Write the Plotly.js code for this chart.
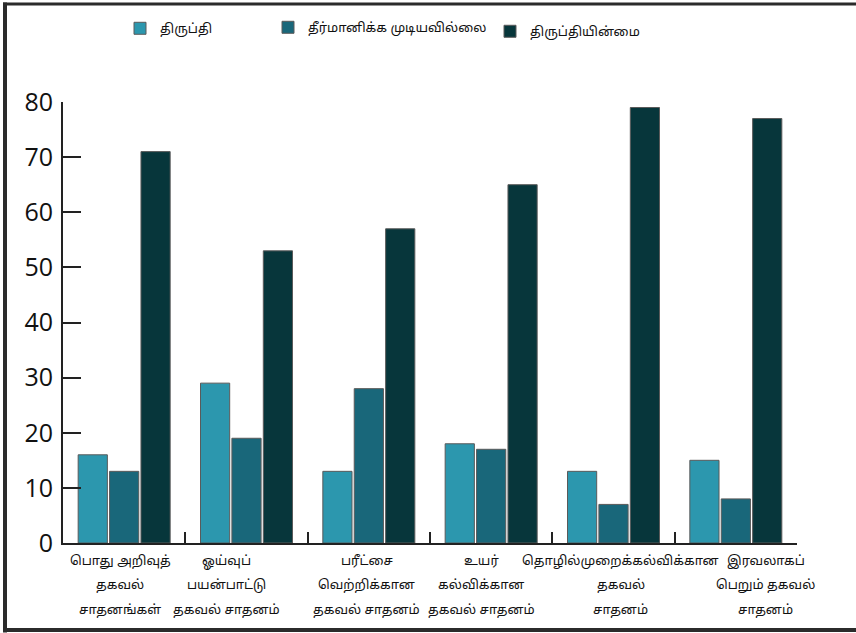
<!DOCTYPE html>
<html>
<head>
<meta charset="utf-8">
<script src="https://cdn.plot.ly/plotly-3.0.1.min.js"></script>
<style>
  html, body { margin: 0; padding: 0; background: #fff; }
  #chart { width: 856px; height: 633px; }
</style>
</head>
<body>
<div id="chart"></div>
<script>
// Information sources (category labels, wrapped over lines)
const categories = [
  "பொது அறிவுத்<br>தகவல்<br>சாதனங்கள்",
  "ஓய்வுப்<br>பயன்பாட்டு<br>தகவல் சாதனம்",
  "பரீட்சை<br>வெற்றிக்கான<br>தகவல் சாதனம்",
  "உயர்<br>கல்விக்கான<br>தகவல் சாதனம்",
  "தொழில்முறைக்கல்விக்கான<br>தகவல்<br>சாதனம்",
  "இரவலாகப்<br>பெறும் தகவல்<br>சாதனம்"
];

// Series names
const seriesNames = ["திருப்தி", "தீர்மானிக்க முடியவில்லை", "திருப்தியின்மை"];

// Series values
const satisfied    = [16, 29, 13, 18, 13, 15];
const undecided    = [13, 19, 28, 17, 7, 8];
const dissatisfied = [71, 53, 57, 65, 79, 77];

const yTicks = [0, 10, 20, 30, 40, 50, 60, 70, 80];

const colors = ["#2c97ae", "#19677a", "#07363b"];
const tamilFont = "'Noto Sans Tamil', 'Latha', 'Lohit Tamil', 'Noto Sans', sans-serif";

// Plot area geometry in pixels
const W = 856, H = 633;
const M = { l: 63, r: 59, t: 100, b: 90 };
const pw = W - M.l - M.r, ph = H - M.t - M.b;
const px = x => (x - M.l) / pw;
const py = y => 1 - (y - M.t) / ph;

const values = [satisfied, undecided, dissatisfied];
const legendIds = ["legend", "legend2", "legend3"];

const traces = values.map((v, i) => ({
  type: "bar",
  name: seriesNames[i],
  x: categories,
  y: v,
  legend: legendIds[i],
  marker: { color: colors[i], line: { color: "#5a5a5a", width: 1 } },
  hoverinfo: "y+name"
}));

const legendBase = {
  orientation: "h",
  bgcolor: "rgba(0,0,0,0)",
  font: { family: tamilFont, size: 13, color: "#111" },
  yanchor: "middle",
  xanchor: "left",
  itemclick: false
};

// Category labels below the axis, one annotation per line,
// with a horizontal nudge per category to keep long lines apart
const labelShift = [-4, -20, -2, -10, 7, 30];
const lineOffset = [19, 43, 68];
const labelAnnotations = [];
categories.forEach((cat, i) => {
  cat.split("<br>").forEach((line, j) => {
    labelAnnotations.push({
      x: cat, y: 0, xref: "x", yref: "y",
      xanchor: "center", yanchor: "middle",
      xshift: labelShift[i], yshift: -lineOffset[j],
      text: line, showarrow: false,
      font: { family: tamilFont, size: 13, color: "#111" }
    });
  });
});

// Figure frame (top, left, bottom edges)
const frameLine = { color: "#2b2b2b" };
const shapes = [
  { type: "line", xref: "paper", yref: "paper", x0: px(3), x1: px(W), y0: py(1.5), y1: py(1.5), line: { ...frameLine, width: 3 } },
  { type: "line", xref: "paper", yref: "paper", x0: px(5), x1: px(5), y0: py(0), y1: py(H), line: { ...frameLine, width: 4 } },
  { type: "line", xref: "paper", yref: "paper", x0: px(3), x1: px(W), y0: py(630.5), y1: py(630.5), line: { ...frameLine, width: 4 } }
];

const layout = {
  width: W, height: H,
  margin: M,
  paper_bgcolor: "#fff",
  plot_bgcolor: "#fff",
  barmode: "group",
  bargap: 0.23,
  bargroupgap: 0.07,
  showlegend: true,
  legend:  { ...legendBase, x: px(120), y: py(26) },
  legend2: { ...legendBase, x: px(268), y: py(25) },
  legend3: { ...legendBase, x: px(490), y: py(29) },
  xaxis: {
    type: "category",
    range: [-0.5, categories.length - 0.5],
    automargin: false,
    showline: true, linecolor: "#222", linewidth: 2,
    ticks: "inside", tickson: "boundaries", ticklen: 11, tickwidth: 2, tickcolor: "#222",
    showticklabels: false,
    showgrid: false, zeroline: false
  },
  yaxis: {
    range: [0, 80],
    automargin: false,
    tickvals: yTicks,
    showline: true, linecolor: "#222", linewidth: 2,
    ticks: "inside", ticklen: 18, tickwidth: 2, tickcolor: "#222",
    tickfont: { family: "'Open Sans', 'Liberation Sans', sans-serif", size: 25, color: "#111" },
    ticklabelstandoff: 3,
    showgrid: false, zeroline: false
  },
  annotations: labelAnnotations,
  shapes: shapes
};

Plotly.newPlot("chart", traces, layout, { displayModeBar: false, staticPlot: true });
</script>
</body>
</html>
